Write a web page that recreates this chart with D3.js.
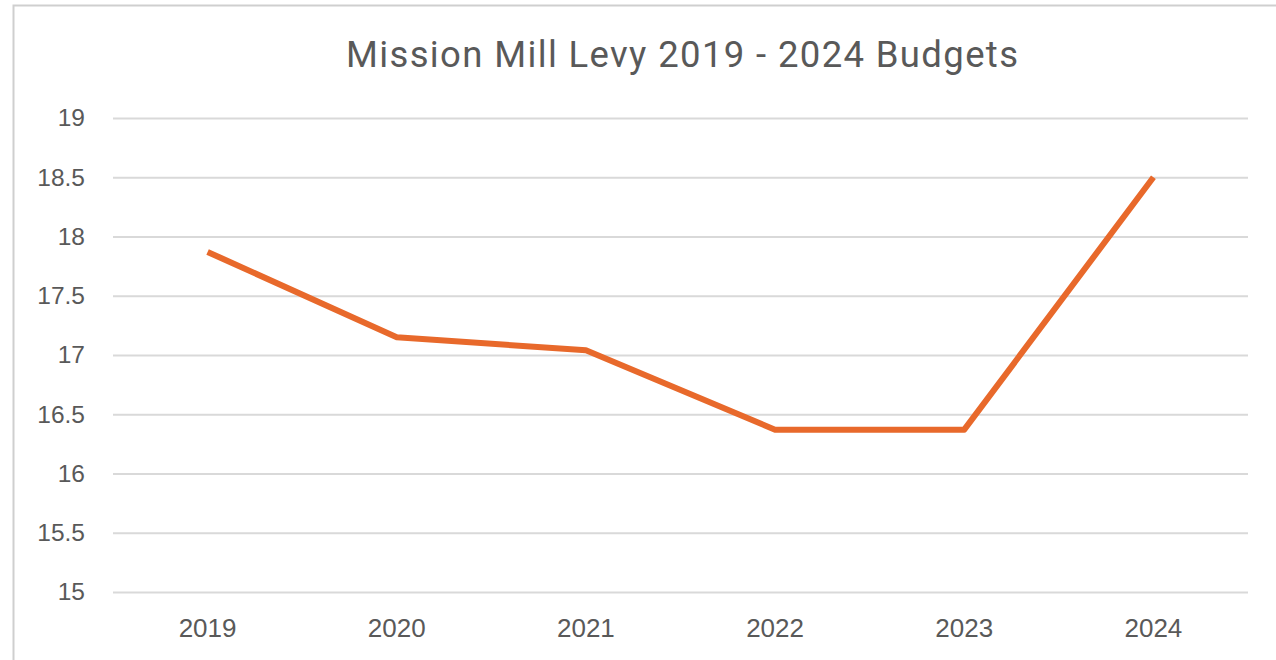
<!DOCTYPE html>
<html>
<head>
<meta charset="utf-8">
<script src="https://cdn.jsdelivr.net/npm/d3@7"></script>
<style>
  body { margin: 0; background: #fff; }
  svg { display: block; }
</style>
</head>
<body>
<div id="chart"></div>
<script>
const years = ["2019", "2020", "2021", "2022", "2023", "2024"];
const levy = [17.87, 17.15, 17.04, 16.37, 16.37, 18.5];
const yTicks = [15, 15.5, 16, 16.5, 17, 17.5, 18, 18.5, 19];
const title = "Mission Mill Levy 2019 - 2024 Budgets";

const width = 1276, height = 660;
const margin = { top: 118, right: 28, bottom: 68, left: 113 };

const svg = d3.select("#chart")
  .append("svg")
  .attr("width", width)
  .attr("height", height);

// chart frame (only left and top edges show in the screenshot)
svg.append("path")
  .attr("d", "M13.5,660 V5.5 H1276")
  .attr("fill", "none")
  .attr("stroke", "#cfcfcf")
  .attr("stroke-width", 2);

const x = d3.scaleBand()
  .domain(years)
  .range([margin.left, width - margin.right]);

const y = d3.scaleLinear()
  .domain([15, 19])
  .range([height - margin.bottom, margin.top]);

svg.append("text")
  .attr("x", 682)
  .attr("y", 67)
  .attr("text-anchor", "middle")
  .attr("fill", "#595959")
  .attr("textLength", 672)
  .attr("lengthAdjust", "spacing")
  .style("font-family", "Roboto, sans-serif")
  .style("font-size", "36.5px")
  .text(title);

// gridlines
svg.append("g")
  .selectAll("line")
  .data(yTicks)
  .join("line")
  .attr("x1", margin.left)
  .attr("x2", width - margin.right)
  .attr("y1", d => y(d) + 0.5)
  .attr("y2", d => y(d) + 0.5)
  .attr("stroke", "#d9d9d9")
  .attr("stroke-width", 2);

const yAxis = svg.append("g")
  .attr("transform", `translate(${margin.left - 28},0)`)
  .call(d3.axisLeft(y).tickValues(yTicks).tickSize(0).tickPadding(0).tickFormat(d3.format("")));
yAxis.select(".domain").remove();
yAxis.selectAll("text")
  .attr("fill", "#595959")
  .style("font-family", "'Liberation Sans', Arial, sans-serif")
  .style("font-size", "24.5px");

const xAxis = svg.append("g")
  .attr("transform", `translate(0,${height - margin.bottom})`)
  .call(d3.axisBottom(x).tickSize(0).tickPadding(26));
xAxis.select(".domain").remove();
xAxis.selectAll("text")
  .attr("fill", "#595959")
  .attr("dy", null)
  .attr("y", 45)
  .style("font-family", "'Liberation Sans', Arial, sans-serif")
  .style("font-size", "26px");

const line = d3.line()
  .x((d, i) => x(years[i]) + x.bandwidth() / 2)
  .y(d => y(d));

svg.append("path")
  .datum(levy)
  .attr("d", line)
  .attr("fill", "none")
  .attr("stroke", "#e8692b")
  .attr("stroke-width", 6)
  .attr("stroke-linejoin", "round");
</script>
</body>
</html>
